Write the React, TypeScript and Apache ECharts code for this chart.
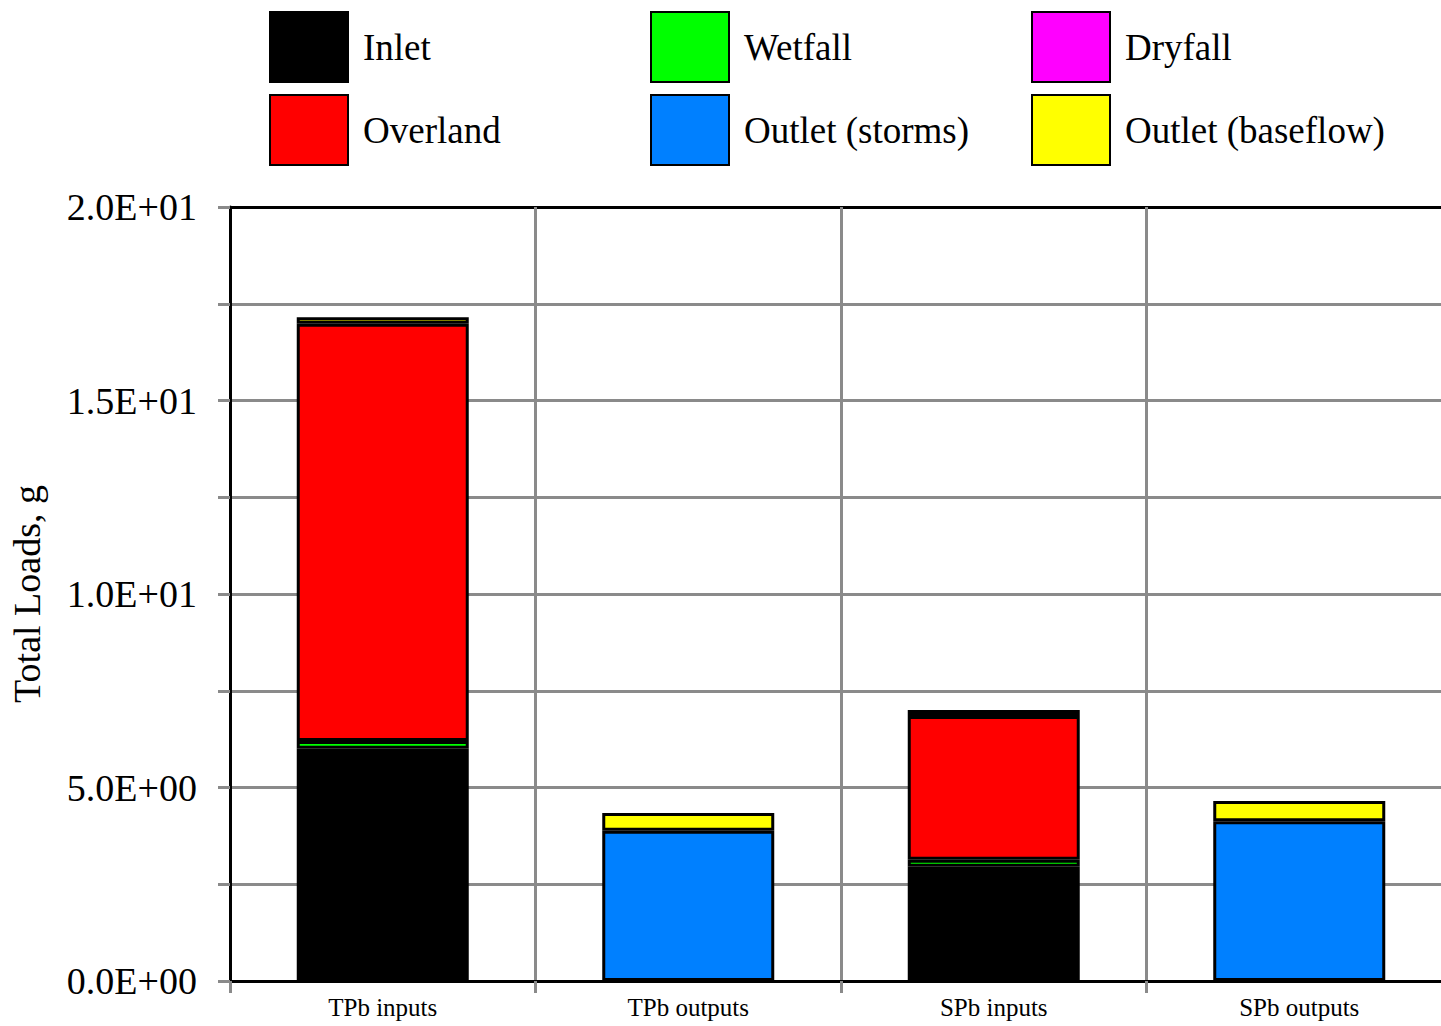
import React, { useEffect, useRef } from "react";
import * as echarts from "echarts";

const categories = ["TPb inputs", "TPb outputs", "SPb inputs", "SPb outputs"];

const inlet = [6.0, "-", 2.95, "-"];
const wetfall = [0.2, "-", 0.18, "-"];
const overland = [10.78, "-", 3.72, "-"];
const dryfall = ["-", "-", "-", "-"];
const outletStorms = ["-", 3.88, "-", 4.13];
const outletBaseflow = [0.17, 0.46, 0.15, 0.52];

const yTicks = [0, 2.5, 5, 7.5, 10, 12.5, 15, 17.5, 20];

const FONT = "'Liberation Serif', 'Times New Roman', serif";
const GRID_GRAY = "#8a8a8a";

function sci(v: number): string {
  const [m, e] = v.toExponential(1).split("e");
  const sign = e.startsWith("-") ? "-" : "+";
  const digits = e.replace(/[+-]/, "").padStart(2, "0");
  return `${m}E${sign}${digits}`;
}

export default function App() {
  const ref = useRef<HTMLDivElement>(null);

  useEffect(() => {
    if (!ref.current) return;
    const chart = echarts.init(ref.current, undefined, { renderer: "svg" });

    const bar = (name: string, data: any[], color: string) => ({
      name,
      type: "bar",
      stack: "total",
      data,
      barWidth: 172,
      itemStyle: { color, borderColor: "#000", borderWidth: 3 },
      emphasis: { disabled: true },
    });

    const legendBase = {
      orient: "vertical",
      top: 11,
      itemWidth: 78,
      itemHeight: 70,
      itemGap: 11,
      padding: 0,
      icon: "rect",
      selectedMode: false,
      textStyle: {
        fontFamily: FONT,
        fontSize: 37,
        color: "#000",
        padding: [0, 0, 4, 10],
      },
    };

    // the last split line (top of the plot) is drawn black as a frame edge
    const splitColors = yTicks.map((t, i) =>
      i === yTicks.length - 1 ? "#000" : GRID_GRAY
    );

    chart.setOption({
      animation: false,
      backgroundColor: "#fff",
      textStyle: { fontFamily: FONT },
      legend: [
        { ...legendBase, left: 269, data: ["Inlet", "Overland"] },
        { ...legendBase, left: 650, data: ["Wetfall", "Outlet (storms)"] },
        { ...legendBase, left: 1031, data: ["Dryfall", "Outlet (baseflow)"] },
      ],
      grid: {
        left: 230,
        top: 207,
        width: 1222,
        height: 774,
        outerBoundsMode: "none",
        containLabel: false,
      },
      xAxis: {
        type: "category",
        data: categories,
        axisLine: { lineStyle: { color: "#000", width: 3 } },
        axisTick: {
          show: true,
          length: 12,
          lineStyle: { color: GRID_GRAY, width: 3 },
        },
        splitLine: { show: true, lineStyle: { color: GRID_GRAY, width: 3 } },
        axisLabel: {
          fontFamily: FONT,
          fontSize: 25,
          color: "#000",
          margin: 14,
        },
      },
      yAxis: {
        type: "value",
        min: 0,
        max: 20,
        interval: 2.5,
        name: "Total Loads, g",
        nameLocation: "middle",
        nameRotate: 90,
        nameGap: 184,
        nameTextStyle: { fontFamily: FONT, fontSize: 38, color: "#000" },
        axisLine: { show: true, lineStyle: { color: "#000", width: 3 } },
        axisTick: {
          show: true,
          length: 12,
          lineStyle: { color: GRID_GRAY, width: 3 },
        },
        splitLine: {
          show: true,
          lineStyle: { color: splitColors, width: 3 },
        },
        axisLabel: {
          fontFamily: FONT,
          fontSize: 38,
          color: "#000",
          margin: 33,
          formatter: (v: number) => (v % 5 === 0 ? sci(v) : ""),
        },
      },
      series: [
        bar("Inlet", inlet, "#000000"),
        bar("Wetfall", wetfall, "#00ff00"),
        bar("Overland", overland, "#ff0000"),
        bar("Dryfall", dryfall, "#ff00ff"),
        bar("Outlet (storms)", outletStorms, "#0080ff"),
        bar("Outlet (baseflow)", outletBaseflow, "#ffff00"),
      ],
    });

    return () => chart.dispose();
  }, []);

  return (
    <div
      ref={ref}
      style={{
        position: "fixed",
        left: 0,
        top: 0,
        width: 1441,
        height: 1026,
        overflow: "hidden",
        background: "#fff",
      }}
    />
  );
}
